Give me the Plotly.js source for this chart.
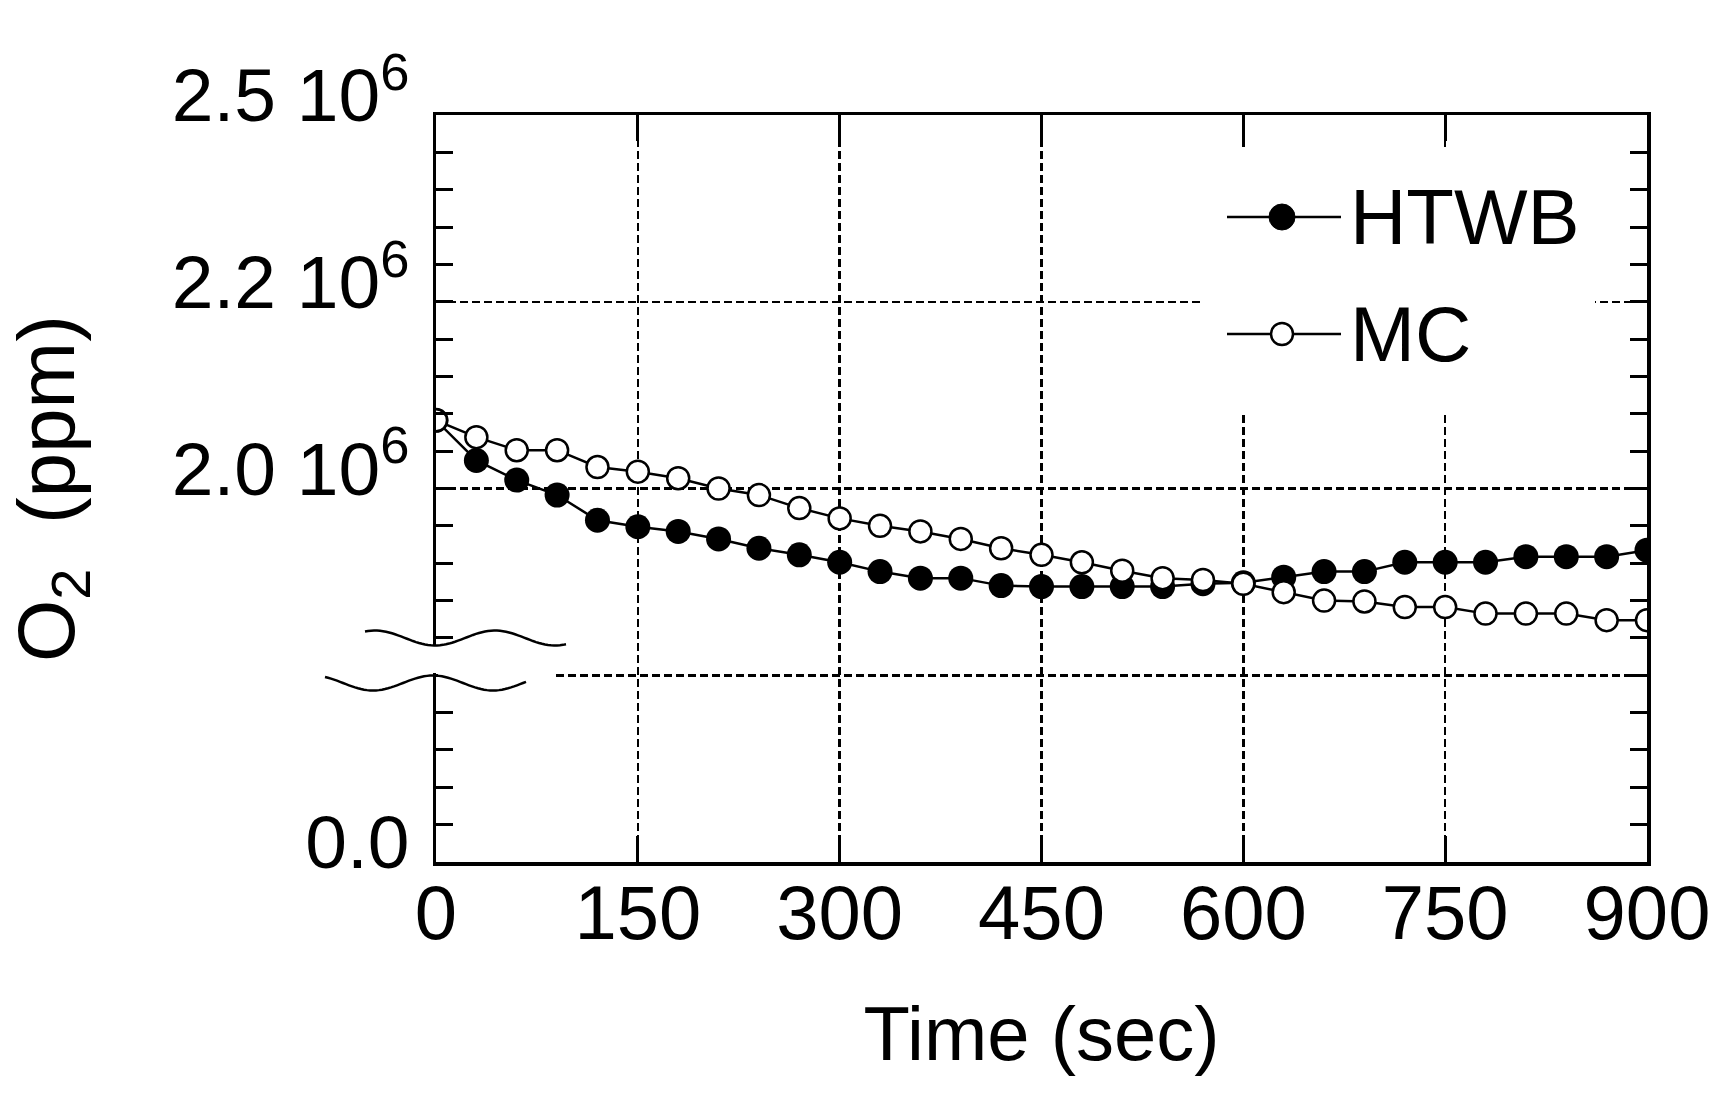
<!DOCTYPE html>
<html>
<head>
<meta charset="utf-8">
<script src="https://cdn.plot.ly/plotly-3.0.1.min.js"></script>
<style>html,body{margin:0;padding:0;background:#fff;}#chart{width:1726px;height:1099px;}</style>
</head>
<body>
<div id="chart"></div>
<script>
// ---- data ----
const timeSec = [0,30,60,90,120,150,180,210,240,270,300,330,360,390,420,450,480,510,540,570,600,630,660,690,720,750,780,810,840,870,900];
const htwbO2 = [2.073e6,2.030e6,2.009e6,1.993e6,1.966e6,1.959e6,1.954e6,1.946e6,1.936e6,1.929e6,1.921e6,1.911e6,1.904e6,1.904e6,1.896e6,1.895e6,1.895e6,1.895e6,1.895e6,1.898e6,1.899e6,1.905e6,1.911e6,1.911e6,1.921e6,1.921e6,1.921e6,1.927e6,1.927e6,1.927e6,1.934e6];
const mcO2 = [2.073e6,2.055e6,2.041e6,2.041e6,2.023e6,2.018e6,2.011e6,2.000e6,1.993e6,1.979e6,1.968e6,1.960e6,1.954e6,1.946e6,1.936e6,1.929e6,1.921e6,1.912e6,1.904e6,1.902e6,1.898e6,1.889e6,1.880e6,1.879e6,1.873e6,1.873e6,1.866e6,1.866e6,1.866e6,1.859e6,1.859e6];
const seriesNames = ['HTWB','MC'];
const xTickVals = [0,150,300,450,600,750,900];
const yTickVals = [1.6e6,1.8e6,2.0e6,2.2e6,2.4e6];   // broken axis: bottom tick stands for 0.0
const yTickText = ['0.0','','2.0 10<sup>6</sup>','2.2 10<sup>6</sup>','2.5 10<sup>6</sup>'];
const xTitle = 'Time (sec)';
const yTitle = 'O<sub>2</sub>  (ppm)';

// ---- layout geometry ----
const W = 1726, H = 1099;
const M = {l:436, r:79, t:115, b:237};
const PW = W - M.l - M.r, PH = H - M.t - M.b;
const px = x => (x - M.l) / PW;
const py = y => 1 - (y - M.t) / PH;
const FONT = '"Liberation Sans", Arial, Helvetica, sans-serif';

const traces = [
  {x: timeSec, y: htwbO2, name: seriesNames[0], type: 'scatter', mode: 'lines+markers',
   line: {color: '#000', width: 2.5},
   marker: {symbol: 'circle', size: 25, color: '#000'}},
  {x: timeSec, y: mcO2, name: seriesNames[1], type: 'scatter', mode: 'lines+markers',
   line: {color: '#000', width: 2.5},
   marker: {symbol: 'circle', size: 22, color: '#fff', line: {color: '#000', width: 2.5}}}
];

function wave(x0, x1, yc, amp, xRef, sign) {
  let d = '';
  for (let x = x0; x <= x1; x += 3) {
    const y = yc + sign * amp * Math.cos(2 * Math.PI * (x - xRef) / 120);
    d += (d ? ' L' : 'M') + px(x).toFixed(5) + ',' + py(y).toFixed(5);
  }
  return d;
}

const legY = [217, 334];
const shapes = [
  // gap in the y axis line for the break
  {type: 'rect', xref: 'paper', yref: 'paper', x0: px(424), x1: px(449), y0: py(673), y1: py(646),
   fillcolor: '#fff', line: {width: 0}, layer: 'above'},
  // the 1.8 grid line begins after the break symbol
  {type: 'rect', xref: 'paper', yref: 'paper', x0: px(438), x1: px(556), y0: py(680), y1: py(670),
   fillcolor: '#fff', line: {width: 0}, layer: 'above'},
  // break waves
  {type: 'path', xref: 'paper', yref: 'paper', path: wave(365, 567, 638, 7.5, 435, 1),
   line: {color: '#000', width: 2.5}, layer: 'above'},
  {type: 'path', xref: 'paper', yref: 'paper', path: wave(325, 527, 683, 7.5, 433, -1),
   line: {color: '#000', width: 2.5}, layer: 'above'},
  // legend box (white, hides grid)
  {type: 'rect', xref: 'paper', yref: 'paper', x0: px(1202), x1: px(1595), y0: py(412), y1: py(150),
   fillcolor: '#fff', line: {width: 0}, layer: 'above'},
  // legend samples
  {type: 'line', xref: 'paper', yref: 'paper', x0: px(1227), x1: px(1341), y0: py(legY[0]), y1: py(legY[0]),
   line: {color: '#000', width: 2.5}, layer: 'above'},
  {type: 'circle', xref: 'paper', yref: 'paper', xsizemode: 'pixel', ysizemode: 'pixel',
   xanchor: px(1282), yanchor: py(legY[0]), x0: -13, x1: 13, y0: -13, y1: 13,
   fillcolor: '#000', line: {color: '#000', width: 1}, layer: 'above'},
  {type: 'line', xref: 'paper', yref: 'paper', x0: px(1227), x1: px(1341), y0: py(legY[1]), y1: py(legY[1]),
   line: {color: '#000', width: 2.5}, layer: 'above'},
  {type: 'circle', xref: 'paper', yref: 'paper', xsizemode: 'pixel', ysizemode: 'pixel',
   xanchor: px(1282), yanchor: py(legY[1]), x0: -11, x1: 11, y0: -11, y1: 11,
   fillcolor: '#fff', line: {color: '#000', width: 2.5}, layer: 'above'}
];

const annotations = [
  {xref: 'paper', yref: 'paper', x: px(1348), y: py(legY[0]), xanchor: 'left', yanchor: 'middle',
   text: seriesNames[0], showarrow: false, font: {family: FONT, size: 78, color: '#000'}},
  {xref: 'paper', yref: 'paper', x: px(1348), y: py(legY[1]), xanchor: 'left', yanchor: 'middle',
   text: seriesNames[1], showarrow: false, font: {family: FONT, size: 78, color: '#000'}}
];

const layout = {
  width: W, height: H,
  margin: M,
  paper_bgcolor: '#fff', plot_bgcolor: '#fff',
  showlegend: false,
  font: {family: FONT, color: '#000'},
  xaxis: {
    range: [0, 900], tickmode: 'array', tickvals: xTickVals,
    ticks: 'inside', ticklen: 26, tickwidth: 3, tickcolor: '#000',
    showline: true, linecolor: '#000', linewidth: 3.5, mirror: 'allticks',
    showgrid: true, gridcolor: '#000', gridwidth: 2.5, griddash: '8px,4px',
    zeroline: false, tickfont: {family: FONT, size: 76, color: '#000'},
    ticklabelstandoff: -18,
    title: {text: xTitle, font: {family: FONT, size: 76, color: '#000'}, standoff: 54}
  },
  yaxis: {
    range: [1.6e6, 2.4e6], tickmode: 'array', tickvals: yTickVals, ticktext: yTickText,
    ticks: 'inside', ticklen: 17, tickwidth: 3, tickcolor: '#000',
    minor: {tick0: 1.6e6, dtick: 40000, ticks: 'inside', ticklen: 17, tickwidth: 3, tickcolor: '#000', showgrid: false},
    showline: true, linecolor: '#000', linewidth: 3.5, mirror: 'allticks',
    showgrid: true, gridcolor: '#000', gridwidth: 2.5, griddash: '8px,4px',
    zeroline: false, tickfont: {family: FONT, size: 75, color: '#000'},
    ticklabelshift: -20, ticklabelstandoff: 8,
    title: {text: yTitle, font: {family: FONT, size: 80, color: '#000'}, standoff: 72}
  },
  shapes: shapes,
  annotations: annotations
};

Plotly.newPlot('chart', traces, layout, {displayModeBar: false, staticPlot: true});
</script>
</body>
</html>
